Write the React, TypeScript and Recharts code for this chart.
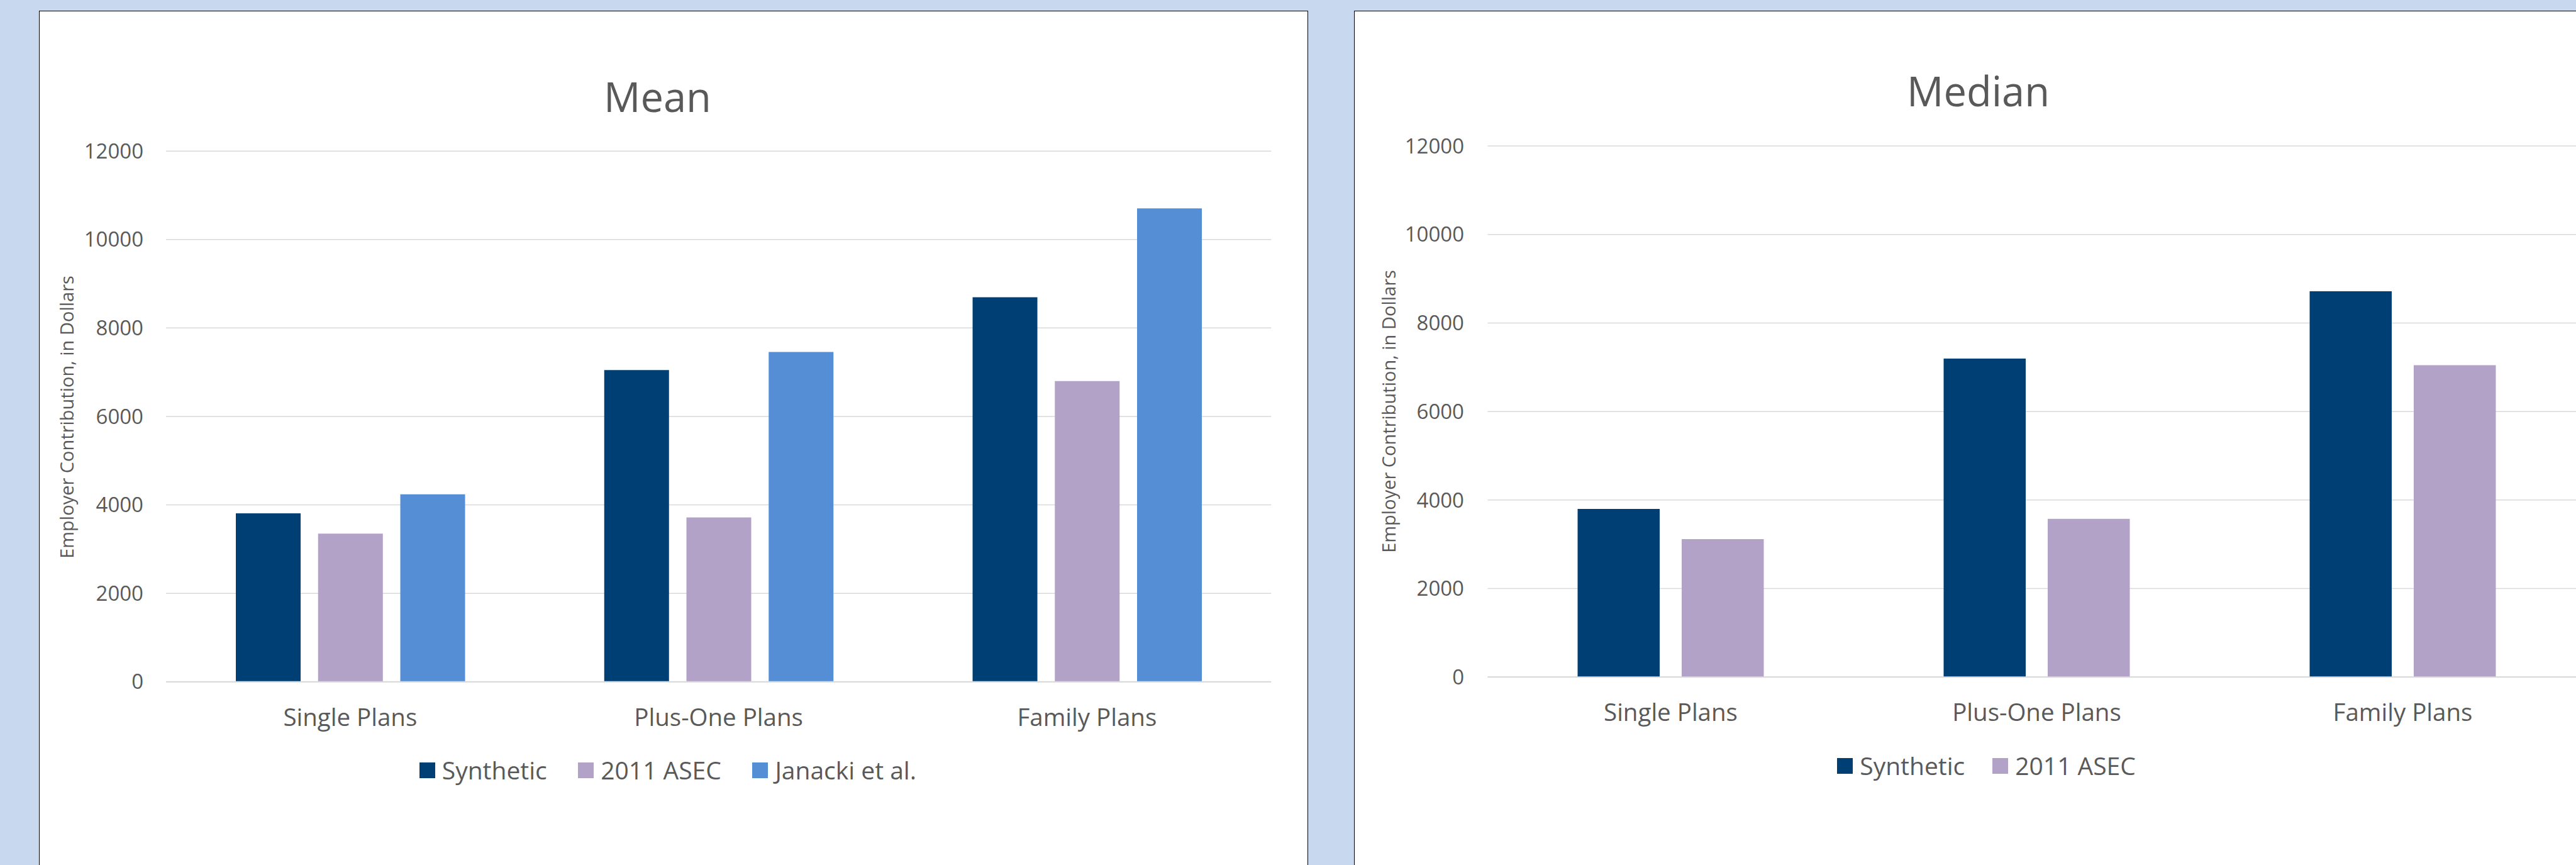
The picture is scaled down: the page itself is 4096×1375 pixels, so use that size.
import React from 'react';
import { BarChart, Bar, XAxis, YAxis, CartesianGrid, Legend } from 'recharts';

const categories = ['Single Plans', 'Plus-One Plans', 'Family Plans'];
const meanSynthetic = [3810, 7050, 8695];
const meanAsec = [3350, 3717, 6800];
const meanJanacki = [4238, 7457, 10705];
const medianSynthetic = [3800, 7195, 8715];
const medianAsec = [3115, 3576, 7045];
const yTicks = [0, 2000, 4000, 6000, 8000, 10000, 12000];

const titleMean = 'Mean';
const titleMedian = 'Median';
const yLabel = 'Employer Contribution, in Dollars';
const nameSynthetic = 'Synthetic';
const nameAsec = '2011 ASEC';
const nameJanacki = 'Janacki et al.';
const legendOrder = [nameSynthetic, nameAsec, nameJanacki];

const C_SYN = '#003F74';
const C_ASEC = '#B3A2C7';
const C_JAN = '#558ED5';
const TEXT = '#595959';
const GRID = '#D9D9D9';
const BG = '#C8D8EE';
const FONT = '"Open Sans", "Noto Sans", sans-serif';

const meanData = categories.map((c, i) => ({
  category: c,
  synthetic: meanSynthetic[i],
  asec: meanAsec[i],
  janacki: meanJanacki[i],
}));
const medianData = categories.map((c, i) => ({
  category: c,
  synthetic: medianSynthetic[i],
  asec: medianAsec[i],
}));

const makeLegend = (gap: number) => (props: any) => {
  const payload = [...(props.payload || [])].sort(
    (a: any, b: any) => legendOrder.indexOf(a.value) - legendOrder.indexOf(b.value)
  );
  return (
    <div
      style={{
        display: 'flex',
        alignItems: 'center',
        height: 40,
        whiteSpace: 'nowrap',
        fontFamily: FONT,
        fontSize: 39,
        color: TEXT,
      }}
    >
      {payload.map((entry: any, i: number) => (
        <div
          key={i}
          style={{ display: 'flex', alignItems: 'center', marginLeft: i === 0 ? 0 : gap }}
        >
          <div style={{ width: 25, height: 25, background: entry.color, marginRight: 11 }} />
          <span style={{ lineHeight: '40px' }}>{entry.value}</span>
        </div>
      ))}
    </div>
  );
};

const panelStyle = (left: number, top: number): React.CSSProperties => ({
  position: 'absolute',
  left,
  top,
  width: 2017.5,
  height: 1450,
  background: '#FFFFFF',
  border: '1.5px solid #000000',
  boxSizing: 'border-box',
});

export default function App() {
  return (
    <div
      style={{
        position: 'fixed',
        left: 0,
        top: 0,
        width: 4096,
        height: 1375,
        overflow: 'hidden',
        background: BG,
        fontFamily: FONT,
      }}
    >
      <div style={panelStyle(62.25, 17.25)} />
      <div style={panelStyle(2153.25, 16.5)} />

      <div style={{ position: 'absolute', left: 0, top: 0 }}>
        <BarChart
          width={2080}
          height={1375}
          data={meanData}
          margin={{ top: 240.15, right: 58.75, bottom: 191.25, left: 0 }}
          barSize={103}
          barGap={27.75}
        >
          <CartesianGrid vertical={false} stroke={GRID} strokeWidth={1.5} />
          <XAxis
            dataKey="category"
            height={100}
            tickLine={false}
            axisLine={{ stroke: GRID, strokeWidth: 2 }}
            tickSize={0}
            tickMargin={42.75}
            tick={{ fill: TEXT, fontSize: 38.5, fontFamily: FONT }}
            interval={0}
          />
          <YAxis
            width={264}
            domain={[0, 12000]}
            ticks={yTicks}
            axisLine={false}
            tickLine={false}
            tickSize={0}
            tickMargin={36}
            tick={{ fill: TEXT, fontSize: 33, fontFamily: FONT }}
          />
          <Legend
            layout="horizontal"
            verticalAlign="middle"
            align="center"
            itemSorter={null as any}
            wrapperStyle={{ left: 666.75, top: 1204, width: 'auto' }}
            content={makeLegend(49.5)}
          />
          <Bar dataKey="synthetic" name={nameSynthetic} fill={C_SYN} isAnimationActive={false} />
          <Bar dataKey="asec" name={nameAsec} fill={C_ASEC} isAnimationActive={false} />
          <Bar dataKey="janacki" name={nameJanacki} fill={C_JAN} isAnimationActive={false} />
        </BarChart>
      </div>

      <div style={{ position: 'absolute', left: 2100, top: 0 }}>
        <BarChart
          width={2100}
          height={1375}
          data={medianData}
          margin={{ top: 232, right: 88.5, bottom: 198.75, left: 0 }}
          barSize={130.5}
          barGap={35}
        >
          <CartesianGrid vertical={false} stroke={GRID} strokeWidth={1.5} />
          <XAxis
            dataKey="category"
            height={100}
            tickLine={false}
            axisLine={{ stroke: GRID, strokeWidth: 2 }}
            tickSize={0}
            tickMargin={42.75}
            tick={{ fill: TEXT, fontSize: 38.5, fontFamily: FONT }}
            interval={0}
          />
          <YAxis
            width={265.5}
            domain={[0, 12000]}
            ticks={yTicks}
            axisLine={false}
            tickLine={false}
            tickSize={0}
            tickMargin={37.5}
            tick={{ fill: TEXT, fontSize: 33, fontFamily: FONT }}
          />
          <Legend
            layout="horizontal"
            verticalAlign="middle"
            align="center"
            itemSorter={null as any}
            wrapperStyle={{ left: 821.25, top: 1197, width: 'auto' }}
            content={makeLegend(44)}
          />
          <Bar dataKey="synthetic" name={nameSynthetic} fill={C_SYN} isAnimationActive={false} />
          <Bar dataKey="asec" name={nameAsec} fill={C_ASEC} isAnimationActive={false} />
        </BarChart>
      </div>

      <svg
        width={4096}
        height={1375}
        style={{ position: 'absolute', left: 0, top: 0, pointerEvents: 'none' }}
      >
        <text x={1045.5} y={177.75} textAnchor="middle" fontSize={65} fill={TEXT} fontFamily={FONT}>
          {titleMean}
        </text>
        <text x={3145.5} y={169} textAnchor="middle" fontSize={65} fill={TEXT} fontFamily={FONT}>
          {titleMedian}
        </text>
        <text
          transform="translate(117, 663) rotate(-90)"
          textAnchor="middle"
          fontSize={29}
          fill={TEXT}
          fontFamily={FONT}
        >
          {yLabel}
        </text>
        <text
          transform="translate(2219, 654) rotate(-90)"
          textAnchor="middle"
          fontSize={29}
          fill={TEXT}
          fontFamily={FONT}
        >
          {yLabel}
        </text>
      </svg>
    </div>
  );
}
